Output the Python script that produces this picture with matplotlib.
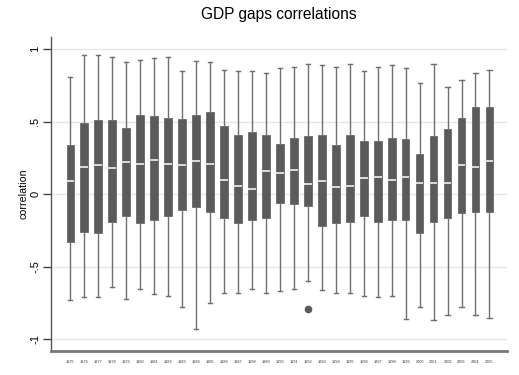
import matplotlib
matplotlib.use('Agg')
import matplotlib.pyplot as plt

years = list(range(1975, 2006))

whisker_hi = [0.81, 0.96, 0.96, 0.95, 0.91, 0.93, 0.94, 0.95, 0.85, 0.92, 0.91,
              0.86, 0.85, 0.85, 0.84, 0.87, 0.88, 0.90, 0.89, 0.88, 0.90,
              0.85, 0.88, 0.89, 0.87, 0.77, 0.90, 0.74, 0.79, 0.84, 0.86]
q3 = [0.34, 0.49, 0.51, 0.51, 0.46, 0.55, 0.54, 0.53, 0.52, 0.55, 0.57,
      0.47, 0.41, 0.43, 0.41, 0.35, 0.39, 0.40, 0.41, 0.34, 0.41,
      0.37, 0.37, 0.39, 0.38, 0.28, 0.40, 0.45, 0.53, 0.60, 0.60]
medians = [0.09, 0.19, 0.20, 0.18, 0.22, 0.21, 0.24, 0.21, 0.20, 0.23, 0.21,
           0.10, 0.06, 0.04, 0.16, 0.15, 0.17, 0.07, 0.09, 0.05, 0.06,
           0.11, 0.12, 0.10, 0.12, 0.08, 0.08, 0.08, 0.20, 0.19, 0.23]
q1 = [-0.33, -0.26, -0.27, -0.19, -0.15, -0.20, -0.18, -0.15, -0.11, -0.09, -0.12,
      -0.16, -0.20, -0.18, -0.16, -0.06, -0.07, -0.08, -0.22, -0.20, -0.19,
      -0.15, -0.19, -0.18, -0.18, -0.27, -0.19, -0.16, -0.13, -0.12, -0.12]
whisker_lo = [-0.73, -0.71, -0.71, -0.64, -0.72, -0.65, -0.69, -0.70, -0.78, -0.93, -0.75,
              -0.68, -0.68, -0.65, -0.68, -0.67, -0.65, -0.60, -0.66, -0.68, -0.68,
              -0.70, -0.71, -0.70, -0.86, -0.78, -0.87, -0.83, -0.78, -0.83, -0.85]
outliers = {1992: [-0.79]}

stats = []
for i, yr in enumerate(years):
    stats.append({
        'label': str(yr),
        'whislo': whisker_lo[i],
        'q1': q1[i],
        'med': medians[i],
        'q3': q3[i],
        'whishi': whisker_hi[i],
        'fliers': outliers.get(yr, []),
    })

fig = plt.figure(figsize=(5.19, 3.75), dpi=100)
ax = fig.add_axes([0.0992, 0.0627, 0.8778, 0.8393])

box_col = '#5b5b5b'
ax.bxp(stats, positions=range(1, len(years) + 1), widths=0.55, patch_artist=True,
       boxprops=dict(facecolor=box_col, edgecolor=box_col, linewidth=0.5),
       medianprops=dict(color='white', linewidth=1.1),
       whiskerprops=dict(color='#707070', linewidth=1),
       capprops=dict(color='#707070', linewidth=1),
       capwidths=0.3,
       flierprops=dict(marker='o', markerfacecolor=box_col, markeredgecolor=box_col,
                       markersize=4.5))

ax.set_xlim(-0.35, 32.26)
ax.set_ylim(-1.084, 1.087)
ax.set_yticks([1, 0.5, 0, -0.5, -1])
ax.set_yticklabels(['1', '.5', '0', '-.5', '-1'], rotation=90, va='center', fontsize=8)
ax.set_xticks(range(1, len(years) + 1))
ax.set_xticklabels([str(y) for y in years], fontsize=2.8, color='#333333')
ax.tick_params(axis='x', length=0, pad=6)
ax.tick_params(axis='y', length=6, width=1, color='#444444', pad=2)
ax.set_ylabel('correlation', fontsize=7.7, labelpad=1)

ax.grid(axis='y', color='#e6e6e6', linewidth=1)
ax.set_axisbelow(True)
for side in ['top', 'right']:
    ax.spines[side].set_visible(False)
ax.spines['left'].set_color('#555555')
ax.spines['left'].set_linewidth(1)
ax.spines['bottom'].set_color('#777777')
ax.spines['bottom'].set_linewidth(2)

ax.set_title('GDP gaps correlations', fontsize=11.2, family='Liberation Sans', pad=13)
for lbl in ax.get_yticklabels() + ax.get_xticklabels():
    lbl.set_family('Liberation Sans')
ax.yaxis.label.set_family('Liberation Sans')

fig.savefig('out.png', dpi=100, facecolor='white')
